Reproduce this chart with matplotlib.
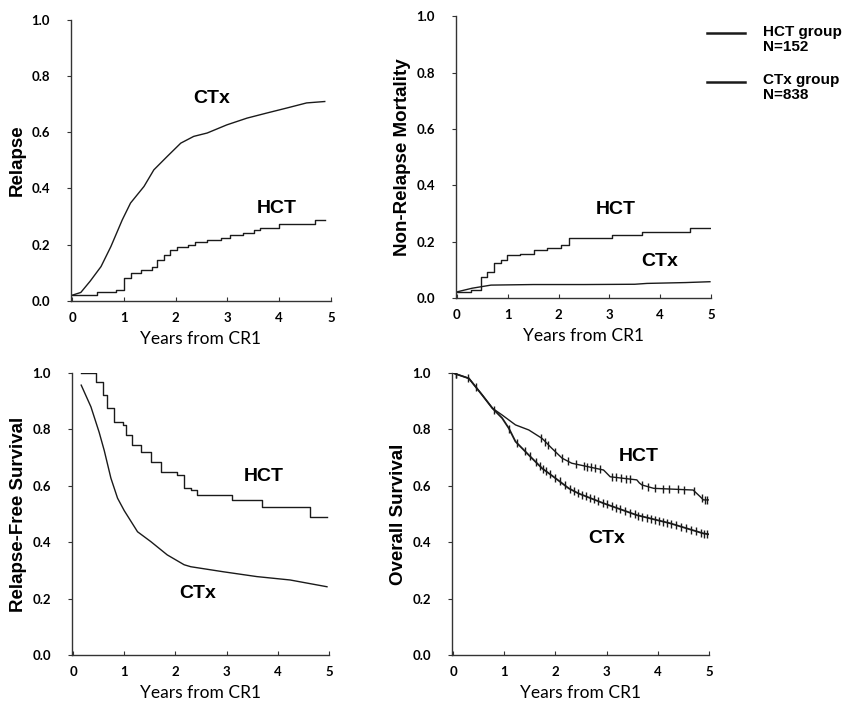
import matplotlib.pyplot as plt
from matplotlib.lines import Line2D
import numpy as np

# ---- data ----
# Relapse
rel_hct_t = [0, 0.49, 0.85, 1.0, 1.13, 1.33, 1.55, 1.65, 1.78, 1.90, 2.03, 2.23, 2.38, 2.61, 2.87,
             3.06, 3.31, 3.51, 3.63, 3.99, 4.69, 4.88]
rel_hct_v = [0.02, 0.03, 0.039, 0.081, 0.098, 0.110, 0.122, 0.146, 0.164, 0.181, 0.193, 0.199, 0.211,
             0.217, 0.223, 0.235, 0.241, 0.253, 0.259, 0.274, 0.288, 0.288]
rel_ctx_t = [0, 0.17, 0.35, 0.56, 0.75, 0.97, 1.13, 1.39, 1.58, 1.84, 2.10, 2.35, 2.61, 2.99, 3.38,
             3.76, 4.15, 4.53, 4.88]
rel_ctx_v = [0.02, 0.03, 0.07, 0.122, 0.193, 0.288, 0.348, 0.407, 0.466, 0.514, 0.561, 0.585, 0.597,
             0.626, 0.650, 0.668, 0.686, 0.704, 0.709]

# Non-relapse mortality
nrm_hct_t = [0, 0.27, 0.47, 0.60, 0.73, 0.86, 0.99, 1.25, 1.52, 1.78, 2.04, 2.20, 3.05, 3.64, 4.59, 4.98]
nrm_hct_v = [0.022, 0.028, 0.076, 0.093, 0.123, 0.135, 0.152, 0.158, 0.170, 0.176, 0.188, 0.212,
             0.223, 0.235, 0.247, 0.247]
nrm_ctx_t = [0, 0.3, 0.67, 1.5, 2.5, 3.5, 3.74, 4.5, 4.98]
nrm_ctx_v = [0.022, 0.035, 0.046, 0.048, 0.048, 0.049, 0.052, 0.055, 0.058]

# Relapse-free survival
rfs_hct_t = [0.16, 0.32, 0.45, 0.58, 0.67, 0.80, 0.97, 1.03, 1.16, 1.32, 1.52, 1.71, 2.04, 2.17,
             2.30, 2.43, 3.01, 3.11, 3.59, 3.69, 4.53, 4.63, 4.96]
rfs_hct_v = [1.0, 1.0, 0.969, 0.922, 0.875, 0.827, 0.816, 0.780, 0.745, 0.721, 0.685, 0.650, 0.638,
             0.591, 0.585, 0.567, 0.567, 0.550, 0.550, 0.526, 0.526, 0.490, 0.488]
rfs_ctx_t = [0.16, 0.35, 0.51, 0.61, 0.74, 0.87, 1.0, 1.26, 1.52, 1.84, 2.17, 2.30, 2.94, 3.59,
             4.24, 4.96]
rfs_ctx_v = [0.957, 0.880, 0.790, 0.725, 0.627, 0.556, 0.512, 0.437, 0.402, 0.355, 0.320, 0.313,
             0.295, 0.278, 0.266, 0.242]

# Overall survival
os_hct_t = [0, 0.31, 0.57, 0.77, 0.96, 1.22, 1.48, 1.74, 1.93, 2.13, 2.32, 2.94, 3.0, 3.07, 3.59,
            3.64, 3.69, 3.92, 4.69, 4.83, 4.89, 5.0]
os_hct_v = [1.0, 0.981, 0.922, 0.875, 0.851, 0.816, 0.798, 0.768, 0.733, 0.698, 0.680, 0.656, 0.645,
            0.632, 0.621, 0.610, 0.603, 0.591, 0.585, 0.561, 0.550, 0.550]
os_ctx_t = [0, 0.31, 0.57, 0.77, 0.96, 1.09, 1.22, 1.48, 1.74, 2.0, 2.26, 2.45, 2.94, 3.59, 4.24,
            4.89, 5.0]
os_ctx_v = [1.0, 0.981, 0.922, 0.875, 0.840, 0.804, 0.757, 0.709, 0.662, 0.627, 0.591, 0.573, 0.538,
            0.496, 0.467, 0.431, 0.428]

# censoring marks (years)
os_hct_cens = [0.05, 1.72, 1.8, 1.86, 2.0, 2.12, 2.25, 2.4, 2.55, 2.62, 2.7, 2.78, 2.88, 3.1, 3.18,
               3.28, 3.38, 3.45, 3.7, 3.8, 3.95, 4.1, 4.22, 4.4, 4.52, 4.7, 4.86, 4.92, 4.97]
os_ctx_cens = [0.05, 0.3, 0.45, 0.8, 1.1, 1.25, 1.4, 1.5, 1.62, 1.7, 1.76, 1.82, 1.9, 2.0, 2.08,
               2.18, 2.28, 2.36, 2.45, 2.52, 2.6, 2.68, 2.75, 2.84, 2.92, 3.0, 3.1, 3.18, 3.26,
               3.35, 3.45, 3.55, 3.62, 3.7, 3.78, 3.86, 3.94, 4.02, 4.1, 4.18, 4.26, 4.36, 4.46,
               4.55, 4.65, 4.75, 4.84, 4.9, 4.96]

tick_x = [0, 1, 2, 3, 4, 5]
tick_y = [0.0, 0.2, 0.4, 0.6, 0.8, 1.0]

LINE = '#1a1a1a'
TICKFONT = dict(family='Lato', weight='bold', size=9.5)
TXT = dict(family='Liberation Sans', weight='bold', size=14, ha='center', va='center')

fig = plt.figure(figsize=(8.48, 7.03), dpi=100)


def style(ax, ylabel):
    ax.set_xlim(-0.02, 5.0)
    ax.set_ylim(0, 1.0)
    for s in ['top', 'right']:
        ax.spines[s].set_visible(False)
    for s in ['left', 'bottom']:
        ax.spines[s].set_color('#333333')
        ax.spines[s].set_linewidth(1.0)
    ax.set_xticks(tick_x)
    ax.set_yticks(tick_y)
    ax.set_xticklabels([str(v) for v in tick_x], fontdict=TICKFONT)
    ax.set_yticklabels(['%.1f' % v for v in tick_y], fontdict=TICKFONT)
    ax.tick_params(axis='x', direction='in', length=3, pad=8, color='#333333')
    ax.tick_params(axis='y', direction='out', length=3, pad=12, color='#333333')
    ax.set_xlabel('Years from CR1', family='Lato', size=12.5, labelpad=5)
    ax.set_ylabel(ylabel, family='Liberation Sans', weight='bold', size=13.5, labelpad=4)


# panel 1: relapse
ax1 = fig.add_axes([0.0837, 0.572, 0.3066, 0.400])
ax1.step(rel_hct_t, rel_hct_v, where='post', color=LINE, lw=1.0)
ax1.plot(rel_ctx_t, rel_ctx_v, color=LINE, lw=1.0)
ax1.text(2.70, 0.721, 'CTx', **TXT)
ax1.text(3.96, 0.330, 'HCT', **TXT)
style(ax1, 'Relapse')

# panel 2: non-relapse mortality
ax2 = fig.add_axes([0.5377, 0.576, 0.3007, 0.401])
ax2.step(nrm_hct_t, nrm_hct_v, where='post', color=LINE, lw=1.0)
ax2.plot(nrm_ctx_t, nrm_ctx_v, color=LINE, lw=1.0)
ax2.text(3.12, 0.315, 'HCT', **TXT)
ax2.text(4.0, 0.129, 'CTx', **TXT)
style(ax2, 'Non-Relapse Mortality')

# panel 3: relapse-free survival
ax3 = fig.add_axes([0.0849, 0.0683, 0.3031, 0.4011])
ax3.step(rfs_hct_t, rfs_hct_v, where='post', color=LINE, lw=1.0)
ax3.plot(rfs_ctx_t, rfs_ctx_v, color=LINE, lw=1.0)
ax3.text(3.72, 0.633, 'HCT', **TXT)
ax3.text(2.43, 0.219, 'CTx', **TXT)
style(ax3, 'Relapse-Free Survival')

# panel 4: overall survival with censor marks
ax4 = fig.add_axes([0.533, 0.0683, 0.3031, 0.4011])
for t, v, cens, lw in [(os_hct_t, os_hct_v, os_hct_cens, 1.0), (os_ctx_t, os_ctx_v, os_ctx_cens, 1.3)]:
    ax4.plot(t, v, color=LINE, lw=lw)
    ax4.plot(cens, np.interp(cens, t, v), ls='none', marker='|', ms=6, mew=1.0, color=LINE)
ax4.text(3.62, 0.704, 'HCT', **TXT)
ax4.text(3.0, 0.414, 'CTx', **TXT)
style(ax4, 'Overall Survival')

# legend drawn by hand at top right
for y_line, y_txt, lab in [(33, 25, 'HCT group\nN=152'), (82, 73, 'CTx group\nN=838')]:
    fig.add_artist(Line2D([707 / 848, 745 / 848], [1 - y_line / 703] * 2, color=LINE, lw=1.8))
    fig.text(763 / 848, 1 - y_txt / 703, lab, family='Liberation Sans', weight='bold',
             size=11, ha='left', va='top', linespacing=1.1)

fig.savefig('out.png', dpi=100)
